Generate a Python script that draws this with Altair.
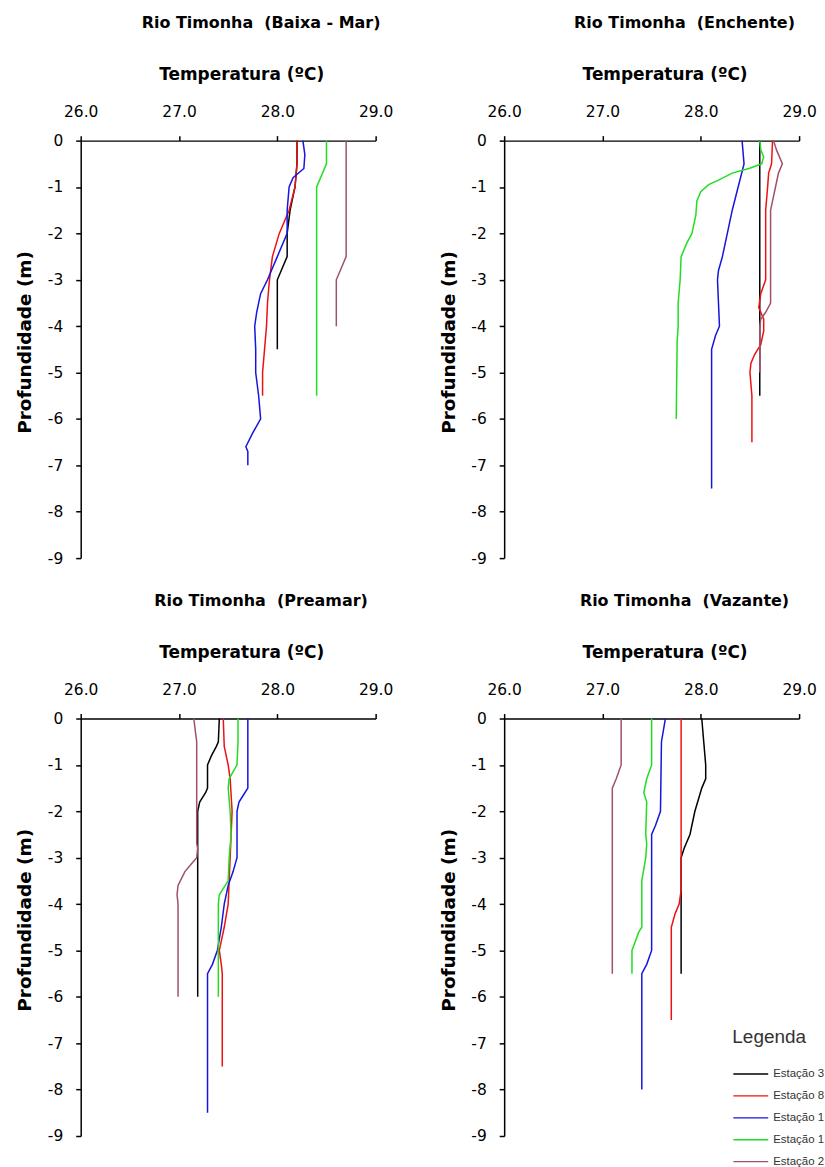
import altair as alt
import pandas as pd

# ---------------- data ----------------
stations = ["Estação 3", "Estação 8", "Estação 13", "Estação 18", "Estação 23"]
colors = ["#000000", "#EE1111", "#1515DD", "#22DD22", "#A0506E"]

panel_titles = [
    "Rio Timonha \u00a0(Baixa - Mar)",
    "Rio Timonha \u00a0(Enchente)",
    "Rio Timonha \u00a0(Preamar)",
    "Rio Timonha \u00a0(Vazante)",
]

# Baixa-Mar
bm_st3_depth = [0, -0.5, -1, -1.5, -2, -2.5, -2.8, -3, -3.5, -4, -4.5]
bm_st3_temp = [28.2, 28.2, 28.18, 28.13, 28.1, 28.1, 28.04, 28.0, 28.0, 28.0, 28.0]
bm_st8_depth = [0, -0.5, -1, -1.5, -2, -2.5, -3, -3.5, -4, -4.5, -5, -5.5]
bm_st8_temp = [28.2, 28.2, 28.18, 28.12, 28.02, 27.95, 27.92, 27.9, 27.89, 27.87, 27.85, 27.85]
bm_st13_depth = [0, -0.3, -0.6, -0.8, -1, -1.5, -2, -2.5, -3, -3.3, -3.7, -4, -4.5, -5, -5.5, -6, -6.3, -6.6, -6.7, -7]
bm_st13_temp = [28.26, 28.28, 28.27, 28.16, 28.12, 28.1, 28.1, 28.0, 27.9, 27.83, 27.79, 27.77, 27.78, 27.78, 27.81, 27.83, 27.75, 27.68, 27.7, 27.7]
bm_st18_depth = [0, -0.5, -1, -5.5]
bm_st18_temp = [28.5, 28.5, 28.4, 28.4]
bm_st23_depth = [0, -2.5, -3, -4]
bm_st23_temp = [28.7, 28.7, 28.6, 28.6]

# Enchente
en_st3_depth = [0, -3.8, -4, -5.5]
en_st3_temp = [28.6, 28.6, 28.6, 28.6]
en_st8_depth = [0, -0.5, -0.7, -1, -1.5, -2, -3, -3.3, -3.6, -3.85, -4.1, -4.4, -4.6, -4.8, -5, -5.5, -6.5]
en_st8_temp = [28.73, 28.72, 28.69, 28.68, 28.66, 28.66, 28.66, 28.61, 28.59, 28.64, 28.64, 28.61, 28.55, 28.51, 28.5, 28.52, 28.52]
en_st13_depth = [0, -0.5, -1, -1.5, -2, -2.5, -2.8, -3, -3.5, -4, -4.2, -4.5, -7.5]
en_st13_temp = [28.42, 28.44, 28.38, 28.32, 28.27, 28.22, 28.18, 28.17, 28.18, 28.19, 28.15, 28.11, 28.11]
en_st18_depth = [0, -0.2, -0.35, -0.5, -0.6, -0.7, -0.85, -0.95, -1.1, -1.3, -1.6, -1.8, -2, -2.2, -2.5, -3, -3.5, -4, -4.3, -6]
en_st18_temp = [28.6, 28.61, 28.64, 28.62, 28.49, 28.32, 28.18, 28.08, 28.0, 27.96, 27.95, 27.93, 27.91, 27.86, 27.8, 27.79, 27.77, 27.77, 27.76, 27.75]
en_st23_depth = [0, -0.2, -0.5, -0.7, -1, -1.5, -3.5, -3.7, -3.85, -4, -5]
en_st23_temp = [28.74, 28.77, 28.83, 28.79, 28.76, 28.71, 28.71, 28.66, 28.61, 28.6, 28.6]

# Preamar
pr_st3_depth = [0, -0.5, -0.6, -0.8, -1, -1.5, -1.6, -1.8, -2, -6]
pr_st3_temp = [27.41, 27.4, 27.38, 27.33, 27.29, 27.29, 27.27, 27.21, 27.19, 27.19]
pr_st8_depth = [0, -0.6, -1, -1.3, -2, -2.5, -3, -3.5, -4, -4.5, -5, -5.3, -5.5, -7.5]
pr_st8_temp = [27.45, 27.46, 27.5, 27.52, 27.54, 27.53, 27.52, 27.51, 27.5, 27.46, 27.41, 27.43, 27.44, 27.44]
pr_st13_depth = [0, -1.5, -1.6, -1.8, -2, -3, -3.3, -3.6, -4, -4.5, -5, -5.3, -5.5, -8.5]
pr_st13_temp = [27.7, 27.7, 27.67, 27.61, 27.59, 27.59, 27.55, 27.5, 27.46, 27.43, 27.39, 27.34, 27.29, 27.29]
pr_st18_depth = [0, -0.5, -1, -1.3, -1.5, -2, -2.5, -3, -3.5, -3.8, -4, -6]
pr_st18_temp = [27.6, 27.6, 27.59, 27.51, 27.5, 27.52, 27.53, 27.51, 27.5, 27.41, 27.4, 27.4]
pr_st23_depth = [0, -0.5, -2.7, -2.8, -3, -3.1, -3.3, -3.6, -3.8, -4, -6]
pr_st23_temp = [27.15, 27.18, 27.18, 27.19, 27.18, 27.14, 27.06, 26.99, 26.98, 26.99, 26.99]

# Vazante
vz_st3_depth = [0, -0.5, -1, -1.3, -1.5, -2, -2.5, -2.8, -3, -5.5]
vz_st3_temp = [28.01, 28.03, 28.05, 28.05, 28.01, 27.94, 27.89, 27.83, 27.8, 27.8]
vz_st8_depth = [0, -3.7, -4, -4.2, -4.5, -6.5]
vz_st8_temp = [27.8, 27.8, 27.78, 27.74, 27.7, 27.7]
vz_st13_depth = [0, -0.5, -2, -2.3, -2.5, -5, -5.3, -5.5, -8]
vz_st13_temp = [27.64, 27.6, 27.59, 27.54, 27.5, 27.5, 27.45, 27.4, 27.4]
vz_st18_depth = [0, -1, -1.3, -1.6, -1.8, -2.5, -2.7, -3, -3.5, -4.5, -4.6, -5, -5.5]
vz_st18_temp = [27.5, 27.5, 27.45, 27.42, 27.45, 27.44, 27.45, 27.44, 27.4, 27.4, 27.37, 27.3, 27.3]
vz_st23_depth = [0, -1, -1.3, -1.5, -5.5]
vz_st23_temp = [27.19, 27.19, 27.14, 27.1, 27.1]

temp_ticks = [26, 27, 28, 29]
depth_ticks = [-9, -8, -7, -6, -5, -4, -3, -2, -1, 0]

panels = [
    [(bm_st3_depth, bm_st3_temp), (bm_st8_depth, bm_st8_temp), (bm_st13_depth, bm_st13_temp),
     (bm_st18_depth, bm_st18_temp), (bm_st23_depth, bm_st23_temp)],
    [(en_st3_depth, en_st3_temp), (en_st8_depth, en_st8_temp), (en_st13_depth, en_st13_temp),
     (en_st18_depth, en_st18_temp), (en_st23_depth, en_st23_temp)],
    [(pr_st3_depth, pr_st3_temp), (pr_st8_depth, pr_st8_temp), (pr_st13_depth, pr_st13_temp),
     (pr_st18_depth, pr_st18_temp), (pr_st23_depth, pr_st23_temp)],
    [(vz_st3_depth, vz_st3_temp), (vz_st8_depth, vz_st8_temp), (vz_st13_depth, vz_st13_temp),
     (vz_st18_depth, vz_st18_temp), (vz_st23_depth, vz_st23_temp)],
]

# ---------------- chart ----------------
TICK_FONT = "DejaVu Sans"
W, H = 296, 419

legend = alt.Legend(
    orient="none", legendX=654, legendY=891,
    title="Legenda", titleFont="Liberation Sans", titleFontSize=19,
    titleFontWeight="normal", titleColor="#333333", titlePadding=16,
    symbolType="stroke", symbolSize=1225, symbolStrokeWidth=1.3,
    labelFont="Liberation Sans", labelFontSize=11.5, labelColor="#333333",
    labelExpr="slice(datum.label, 0, 9)", labelOffset=4,
    clipHeight=21.5, rowPadding=0,
)


def make_panel(i):
    rows = []
    for s, (d, t) in zip(stations, panels[i]):
        for k, (dd, tt) in enumerate(zip(d, t)):
            rows.append({"station": s, "depth": dd, "temp": tt, "seq": k})
    df = pd.DataFrame(rows)
    ch = alt.Chart(df).mark_line(strokeWidth=1.5).encode(
        x=alt.X("temp:Q",
                scale=alt.Scale(domain=[26, 29], nice=False, zero=False),
                axis=alt.Axis(orient="top", values=temp_ticks, format=".1f",
                              labelFlush=False, title="Temperatura (ºC)",
                              titleX=161, titleY=-61, titleBaseline="alphabetic",
                              titleFontSize=17, labelPadding=16)),
        y=alt.Y("depth:Q",
                scale=alt.Scale(domain=[-9, 0], nice=False, zero=False),
                axis=alt.Axis(values=depth_ticks, labelExpr="'' + datum.value",
                              title="Profundidade (m)", titleX=-56, titleY=202,
                              titleBaseline="middle", titleAngle=-90,
                              titleFontSize=18.5, labelPadding=13)),
        color=alt.Color("station:N",
                        scale=alt.Scale(domain=stations, range=colors),
                        legend=legend),
        order=alt.Order("seq:Q"),
    ).properties(
        width=W, height=H,
        title=alt.TitleParams(panel_titles[i], anchor="middle", frame="group",
                              dx=33, offset=22, baseline="alphabetic",
                              font="DejaVu Sans", fontSize=16, fontWeight="bold",
                              color="#000000"),
    )
    return ch


chart = alt.concat(
    make_panel(0), make_panel(1), make_panel(2), make_panel(3),
    columns=2, spacing={"row": 161, "column": 129}, bounds="flush",
).properties(
    padding={"left": 16, "top": 13, "right": 0, "bottom": 0},
    background="white",
).configure_view(
    strokeWidth=0
).configure_axis(
    grid=False, domainColor="#000000", domainWidth=1.5, tickColor="#000000",
    tickWidth=1.5, tickSize=5, labelFont=TICK_FONT, labelFontSize=15.5,
    labelColor="#000000", titleFont="DejaVu Sans", titleFontWeight="bold",
    titleColor="#000000",
)

chart.save("out.html", embed_options={"renderer": "svg", "actions": False})
